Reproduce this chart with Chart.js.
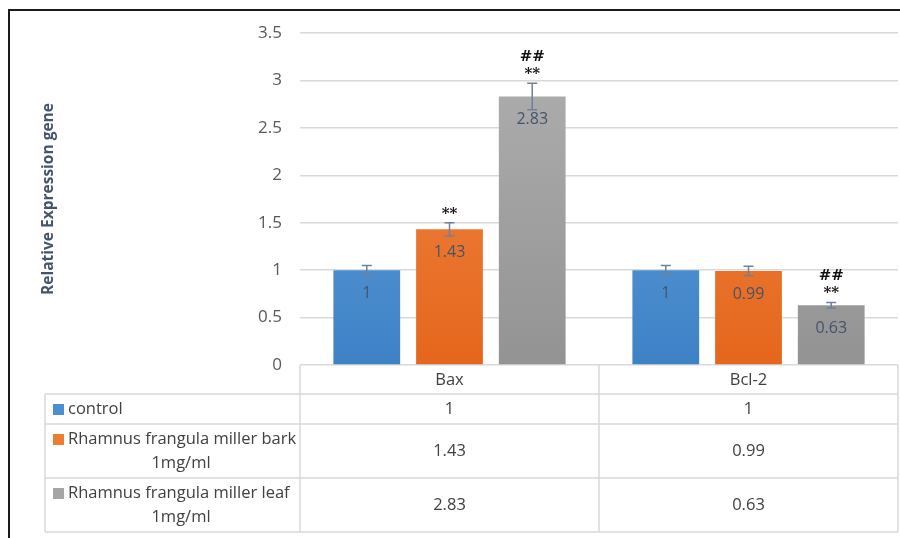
<!DOCTYPE html>
<html>
<head>
<meta charset="utf-8">
<script src="https://cdn.jsdelivr.net/npm/chart.js@4.4.1/dist/chart.umd.min.js"></script>
<style>
  html, body { margin: 0; padding: 0; background: #fff; overflow: hidden; }
  #wrap { position: relative; width: 900px; height: 538px; }
  #frame { position: absolute; left: 8px; top: 9px; width: 1000px; height: 1000px; border: 2px solid #1a1a1a; pointer-events: none; }
</style>
</head>
<body>
<div id="wrap">
  <canvas id="chart" width="900" height="538"></canvas>
  <div id="frame"></div>
</div>
<script>
// data
const categories = ["Bax", "Bcl-2"];
const controlValues = [1, 1];
const barkValues = [1.43, 0.99];
const leafValues = [2.83, 0.63];
const controlErr = [0.05, 0.05];
const barkErr = [0.07, 0.05];
const leafErr = [0.14, 0.03];
// significance marks, top line first
const controlMarks = [[], []];
const barkMarks = [["**"], []];
const leafMarks = [["##", "**"], ["##", "**"]];
const rowLabels = [["control"], ["Rhamnus frangula miller bark", "1mg/ml"], ["Rhamnus frangula miller leaf", "1mg/ml"]];
const seriesNames = ["control", "Rhamnus frangula miller bark 1mg/ml", "Rhamnus frangula miller leaf 1mg/ml"];

const FONT = "'Open Sans', 'Noto Sans', sans-serif";
const colors = [
  { top: "#69a5dd", bottom: "#3e82c6", key: "#4a8fd2" },
  { top: "#f28c4b", bottom: "#e5661c", key: "#ed7d31" },
  { top: "#b0b0b0", bottom: "#939393", key: "#a5a5a5" }
];
const allValues = [controlValues, barkValues, leafValues];
const allErr = [controlErr, barkErr, leafErr];
const allMarks = [controlMarks, barkMarks, leafMarks];

function gradientFor(i) {
  return (ctx) => {
    const area = ctx.chart.chartArea;
    if (!area) return colors[i].key;
    const g = ctx.chart.ctx.createLinearGradient(0, area.top, 0, area.bottom);
    g.addColorStop(0, colors[i].top);
    g.addColorStop(1, colors[i].bottom);
    return g;
  };
}

const extras = {
  id: "extras",
  afterDatasetsDraw(chart) {
    const { ctx, scales: { y } } = chart;
    ctx.save();
    chart.data.datasets.forEach((ds, i) => {
      chart.getDatasetMeta(i).data.forEach((bar, j) => {
        const v = allValues[i][j], e = allErr[i][j];
        const yT = y.getPixelForValue(v + e), yB = y.getPixelForValue(v - e);
        // error bar
        ctx.strokeStyle = "#6f819b";
        ctx.lineWidth = 1.5;
        ctx.beginPath();
        ctx.moveTo(bar.x, yT); ctx.lineTo(bar.x, yB);
        ctx.moveTo(bar.x - 5, yT); ctx.lineTo(bar.x + 5, yT);
        ctx.moveTo(bar.x - 5, yB); ctx.lineTo(bar.x + 5, yB);
        ctx.stroke();
        // value label
        ctx.fillStyle = "#44546a";
        ctx.font = "16px " + FONT;
        ctx.textAlign = "center";
        ctx.textBaseline = "middle";
        ctx.fillText(String(v), bar.x, bar.y + 23);
        // marks
        const marks = allMarks[i][j];
        ctx.fillStyle = "#111";
        ctx.font = "bold 15px 'DejaVu Serif', serif";
        marks.slice().reverse().forEach((m, k) => {
          ctx.fillText(m, bar.x, yT - 9 - k * 17);
        });
      });
    });
    ctx.restore();
  },
  afterDraw(chart) {
    const { ctx, chartArea, scales: { x } } = chart;
    const left = 45, colA = chartArea.left, right = chartArea.right;
    const colB = (x.getPixelForValue(0) + x.getPixelForValue(1)) / 2;
    const top = chartArea.bottom;
    const rows = [top, top + 29, top + 59, top + 113, top + 167];
    ctx.save();
    ctx.strokeStyle = "#d9d9d9";
    ctx.lineWidth = 1.5;
    ctx.beginPath();
    [colA, colB, right].forEach((cx) => { ctx.moveTo(cx, rows[0]); ctx.lineTo(cx, rows[4]); });
    ctx.moveTo(left, rows[1]); ctx.lineTo(left, rows[4]);
    rows.slice(1).forEach((ry) => { ctx.moveTo(left, ry); ctx.lineTo(right, ry); });
    ctx.stroke();

    ctx.fillStyle = "#404040";
    ctx.font = "16.5px " + FONT;
    ctx.textBaseline = "middle";
    ctx.textAlign = "center";
    const colCenters = [(colA + colB) / 2, (colB + right) / 2];
    categories.forEach((c, j) => ctx.fillText(c, colCenters[j], (rows[0] + rows[1]) / 2 + 1));
    rowLabels.forEach((lines, i) => {
      const mid = (rows[i + 1] + rows[i + 2]) / 2;
      allValues[i].forEach((v, j) => {
        ctx.fillStyle = "#404040";
        ctx.textAlign = "center";
        ctx.fillText(String(v), colCenters[j], mid);
      });
      const y0 = lines.length === 1 ? mid : mid - 12;
      ctx.fillStyle = colors[i].key;
      ctx.fillRect(53, y0 - 5, 11, 11);
      ctx.fillStyle = "#404040";
      ctx.textAlign = "left";
      ctx.fillText(lines[0], 68, y0);
      if (lines[1]) {
        ctx.textAlign = "center";
        ctx.fillText(lines[1], 181, mid + 12);
      }
    });
    ctx.restore();
  }
};

new Chart(document.getElementById("chart"), {
  type: "bar",
  data: {
    labels: categories,
    datasets: allValues.map((vals, i) => ({
      label: seriesNames[i],
      data: vals,
      backgroundColor: gradientFor(i),
      categoryPercentage: 0.83,
      barPercentage: 0.807
    }))
  },
  options: {
    responsive: false,
    animation: false,
    layout: { padding: { left: 35, right: 2, top: 33, bottom: 173 } },
    plugins: { legend: { display: false }, tooltip: { enabled: false } },
    scales: {
      x: { display: false },
      y: {
        min: 0,
        max: 3.5,
        afterFit: (scale) => { scale.width = 265; },
        border: { display: false },
        grid: { color: "#d9d9d9", lineWidth: 1.5, drawTicks: false },
        ticks: {
          stepSize: 0.5,
          padding: 18,
          color: "#595959",
          font: { family: FONT, size: 17 },
          callback: (value) => String(+value.toFixed(1))
        },
        title: {
          display: true,
          text: "Relative Expression gene",
          color: "#44546a",
          font: { family: FONT, size: 15.5, weight: "bold" }
        }
      }
    }
  },
  plugins: [extras]
});
</script>
</body>
</html>
